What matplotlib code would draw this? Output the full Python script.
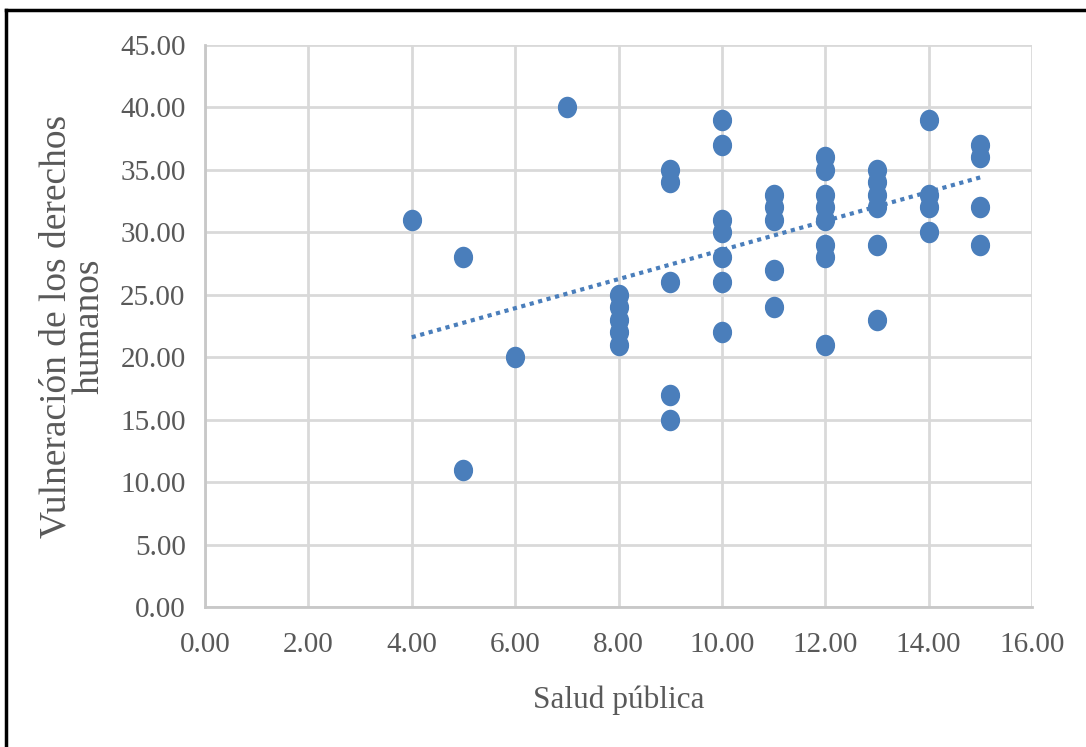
import matplotlib
matplotlib.use('Agg')
import matplotlib.pyplot as plt
import numpy as np
from matplotlib.path import Path
from matplotlib.lines import Line2D

# Salud pública (x) vs Vulneración de los derechos humanos (y)
salud = [4,
         5, 5,
         6,
         7,
         8, 8, 8, 8, 8,
         9, 9, 9, 9, 9,
         10, 10, 10, 10, 10, 10, 10,
         11, 11, 11, 11, 11,
         12, 12, 12, 12, 12, 12, 12, 12,
         13, 13, 13, 13, 13, 13,
         14, 14, 14, 14,
         15, 15, 15, 15]
vulneracion = [31,
               28, 11,
               20,
               40,
               25, 24, 23, 22, 21,
               35, 34, 26, 17, 15,
               39, 37, 31, 30, 28, 26, 22,
               33, 32, 31, 27, 24,
               36, 35, 33, 32, 31, 29, 28, 21,
               35, 34, 33, 32, 29, 23,
               39, 33, 32, 30,
               37, 36, 32, 29]

# linear trend (the full data has overlapping points)
trend_slope = 1.164
trend_intercept = 16.94

x_ticks = np.arange(0, 16.1, 2)
y_ticks = np.arange(0, 45.1, 5)

blue = '#4A7EBB'
grid_c = '#D9D9D9'
text_c = '#595959'

plt.rcParams['font.family'] = ['Liberation Serif', 'DejaVu Serif']

fig = plt.figure(figsize=(10.86, 7.47), dpi=100)
ax = fig.add_axes([0.1888, 0.1874, 0.7615, 0.7524])

# slightly tall ellipse marker (the source image is stretched vertically)
circ = Path.unit_circle()
ell = Path(circ.vertices * np.array([1.0, 1.12]), circ.codes)

x = np.array(salud, dtype=float)
y = np.array(vulneracion, dtype=float)
ax.scatter(x, y, s=240, marker=ell, color=blue, linewidths=0, zorder=3)

xt = np.array([x.min(), x.max()])
ax.plot(xt, trend_intercept + trend_slope * xt, color=blue, linewidth=3,
        linestyle=(0, (1, 1.1)), dash_capstyle='butt', zorder=2)

ax.set_xlim(0, 16)
ax.set_ylim(0, 45)
ax.set_xticks(x_ticks)
ax.set_yticks(y_ticks)
ax.set_xticklabels([f'{v:.2f}' for v in x_ticks])
ax.set_yticklabels([f'{v:.2f}' for v in y_ticks])
ax.tick_params(length=0, labelsize=21, labelcolor=text_c)
ax.tick_params(axis='x', pad=18)
ax.tick_params(axis='y', pad=14)
ax.grid(True, color=grid_c, linewidth=2)
ax.set_axisbelow(True)
for s in ax.spines.values():
    s.set_visible(False)
for side in ['left', 'bottom']:
    ax.spines[side].set_visible(True)
    ax.spines[side].set_color('#C8C8C8')
    ax.spines[side].set_linewidth(2)

ax.set_xlabel('Salud pública', fontsize=22.5, color=text_c, labelpad=20)
ax.set_ylabel('Vulneración de los derechos\nhumanos', fontsize=27, color=text_c,
              labelpad=10, linespacing=0.95)

# outer frame (only top and left edges visible in the crop)
fig.add_artist(Line2D([0.0058, 0.0058], [0, 0.987], color='black', linewidth=2.5,
                      transform=fig.transFigure))
fig.add_artist(Line2D([0.0058, 1.0], [0.987, 0.987], color='black', linewidth=2.5,
                      transform=fig.transFigure))

fig.savefig('out.png', dpi=100)
